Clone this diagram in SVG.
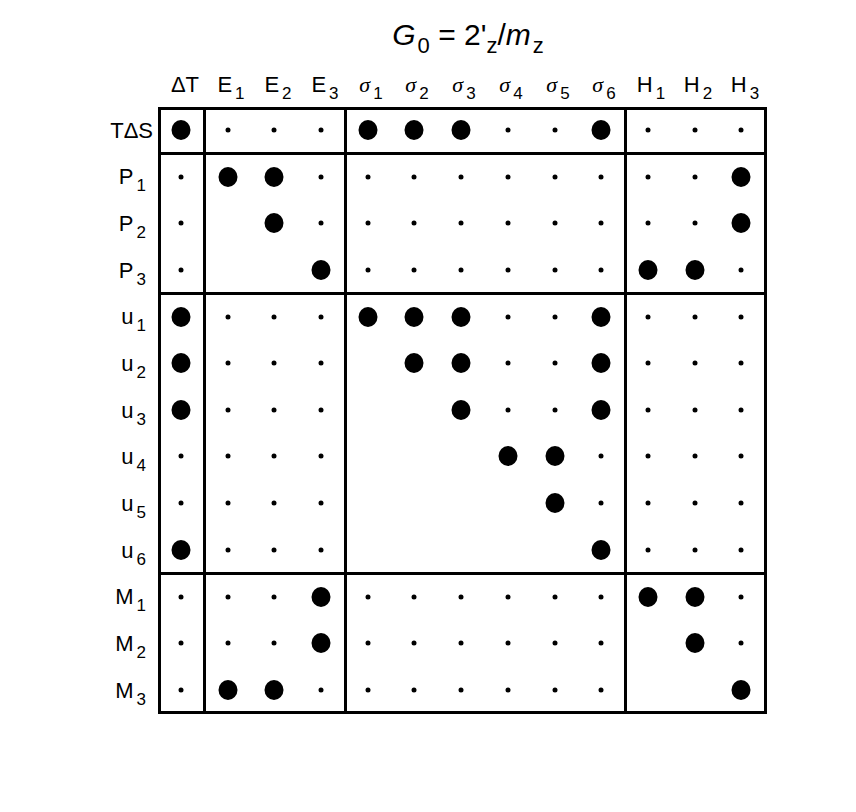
<svg xmlns="http://www.w3.org/2000/svg" width="856" height="812" viewBox="0 0 856 812">
<style>
text{font-family:"Liberation Sans",Arial,sans-serif;font-size:22px;fill:#000}
.h{text-anchor:middle}
.r{text-anchor:end}
.sg{font-family:"Liberation Serif",serif;font-style:italic}
.b{fill:#000}
.ln{stroke:#000;stroke-width:3;fill:none}
</style>
<rect width="856" height="812" fill="#fff"/>
<text x="468" y="45" class="h" style="font-size:30px"><tspan font-style="italic">G</tspan><tspan font-size="22" dx="2" dy="8">0</tspan><tspan dy="-8"> = 2'</tspan><tspan font-size="22" dy="8">z</tspan><tspan dy="-8">/</tspan><tspan font-style="italic">m</tspan><tspan font-size="22" dx="2" dy="8">z</tspan></text>
<g id="headers">
<text x="185" y="92" class="h">ΔT</text>
<text x="231" y="92" class="h">E<tspan font-size="17" dx="3" dy="7">1</tspan></text>
<text x="278" y="92" class="h">E<tspan font-size="17" dx="3" dy="7">2</tspan></text>
<text x="325" y="92" class="h">E<tspan font-size="17" dx="3" dy="7">3</tspan></text>
<text x="371" y="92" class="h"><tspan class="sg">σ</tspan><tspan font-size="17" dx="3" dy="7">1</tspan></text>
<text x="417" y="92" class="h"><tspan class="sg">σ</tspan><tspan font-size="17" dx="3" dy="7">2</tspan></text>
<text x="464" y="92" class="h"><tspan class="sg">σ</tspan><tspan font-size="17" dx="3" dy="7">3</tspan></text>
<text x="511" y="92" class="h"><tspan class="sg">σ</tspan><tspan font-size="17" dx="3" dy="7">4</tspan></text>
<text x="558" y="92" class="h"><tspan class="sg">σ</tspan><tspan font-size="17" dx="3" dy="7">5</tspan></text>
<text x="604" y="92" class="h"><tspan class="sg">σ</tspan><tspan font-size="17" dx="3" dy="7">6</tspan></text>
<text x="651" y="92" class="h">H<tspan font-size="17" dx="3" dy="7">1</tspan></text>
<text x="698" y="92" class="h">H<tspan font-size="17" dx="3" dy="7">2</tspan></text>
<text x="745" y="92" class="h">H<tspan font-size="17" dx="3" dy="7">3</tspan></text>
</g>
<g id="rowlabels">
<text x="153" y="138" class="r">TΔS</text>
<text x="146" y="184" class="r">P<tspan font-size="17" dx="3" dy="7">1</tspan></text>
<text x="146" y="231" class="r">P<tspan font-size="17" dx="3" dy="7">2</tspan></text>
<text x="146" y="278" class="r">P<tspan font-size="17" dx="3" dy="7">3</tspan></text>
<text x="146" y="324" class="r">u<tspan font-size="17" dx="3" dy="7">1</tspan></text>
<text x="146" y="371" class="r">u<tspan font-size="17" dx="3" dy="7">2</tspan></text>
<text x="146" y="418" class="r">u<tspan font-size="17" dx="3" dy="7">3</tspan></text>
<text x="146" y="464" class="r">u<tspan font-size="17" dx="3" dy="7">4</tspan></text>
<text x="146" y="511" class="r">u<tspan font-size="17" dx="3" dy="7">5</tspan></text>
<text x="146" y="558" class="r">u<tspan font-size="17" dx="3" dy="7">6</tspan></text>
<text x="146" y="604" class="r">M<tspan font-size="17" dx="3" dy="7">1</tspan></text>
<text x="146" y="651" class="r">M<tspan font-size="17" dx="3" dy="7">2</tspan></text>
<text x="146" y="698" class="r">M<tspan font-size="17" dx="3" dy="7">3</tspan></text>
</g>
<g id="grid">
<rect x="159.5" y="108.5" width="606" height="604" class="ln"/>
<line x1="204.5" y1="108" x2="204.5" y2="713" class="ln"/>
<line x1="345.5" y1="108" x2="345.5" y2="713" class="ln"/>
<line x1="625.5" y1="108" x2="625.5" y2="713" class="ln"/>
<line x1="159" y1="153.5" x2="766" y2="153.5" class="ln"/>
<line x1="159" y1="293.5" x2="766" y2="293.5" class="ln"/>
<line x1="159" y1="573.5" x2="766" y2="573.5" class="ln"/>
</g>
<defs>
<ellipse id="B" rx="9.5" ry="10" class="b"/>
<circle id="s" r="2.5" class="b"/>
</defs>
<g id="dots">
<use href="#B" x="181" y="130"/><use href="#s" x="228" y="130"/><use href="#s" x="274" y="130"/><use href="#s" x="321" y="130"/><use href="#B" x="368" y="130"/><use href="#B" x="414" y="130"/><use href="#B" x="461" y="130"/><use href="#s" x="508" y="130"/><use href="#s" x="555" y="130"/><use href="#B" x="601" y="130"/><use href="#s" x="648" y="130"/><use href="#s" x="695" y="130"/><use href="#s" x="741" y="130"/>
<use href="#s" x="181" y="177"/><use href="#B" x="228" y="177"/><use href="#B" x="274" y="177"/><use href="#s" x="321" y="177"/><use href="#s" x="368" y="177"/><use href="#s" x="414" y="177"/><use href="#s" x="461" y="177"/><use href="#s" x="508" y="177"/><use href="#s" x="555" y="177"/><use href="#s" x="601" y="177"/><use href="#s" x="648" y="177"/><use href="#s" x="695" y="177"/><use href="#B" x="741" y="177"/>
<use href="#s" x="181" y="223"/><use href="#B" x="274" y="223"/><use href="#s" x="321" y="223"/><use href="#s" x="368" y="223"/><use href="#s" x="414" y="223"/><use href="#s" x="461" y="223"/><use href="#s" x="508" y="223"/><use href="#s" x="555" y="223"/><use href="#s" x="601" y="223"/><use href="#s" x="648" y="223"/><use href="#s" x="695" y="223"/><use href="#B" x="741" y="223"/>
<use href="#s" x="181" y="270"/><use href="#B" x="321" y="270"/><use href="#s" x="368" y="270"/><use href="#s" x="414" y="270"/><use href="#s" x="461" y="270"/><use href="#s" x="508" y="270"/><use href="#s" x="555" y="270"/><use href="#s" x="601" y="270"/><use href="#B" x="648" y="270"/><use href="#B" x="695" y="270"/><use href="#s" x="741" y="270"/>
<use href="#B" x="181" y="317"/><use href="#s" x="228" y="317"/><use href="#s" x="274" y="317"/><use href="#s" x="321" y="317"/><use href="#B" x="368" y="317"/><use href="#B" x="414" y="317"/><use href="#B" x="461" y="317"/><use href="#s" x="508" y="317"/><use href="#s" x="555" y="317"/><use href="#B" x="601" y="317"/><use href="#s" x="648" y="317"/><use href="#s" x="695" y="317"/><use href="#s" x="741" y="317"/>
<use href="#B" x="181" y="363"/><use href="#s" x="228" y="363"/><use href="#s" x="274" y="363"/><use href="#s" x="321" y="363"/><use href="#B" x="414" y="363"/><use href="#B" x="461" y="363"/><use href="#s" x="508" y="363"/><use href="#s" x="555" y="363"/><use href="#B" x="601" y="363"/><use href="#s" x="648" y="363"/><use href="#s" x="695" y="363"/><use href="#s" x="741" y="363"/>
<use href="#B" x="181" y="410"/><use href="#s" x="228" y="410"/><use href="#s" x="274" y="410"/><use href="#s" x="321" y="410"/><use href="#B" x="461" y="410"/><use href="#s" x="508" y="410"/><use href="#s" x="555" y="410"/><use href="#B" x="601" y="410"/><use href="#s" x="648" y="410"/><use href="#s" x="695" y="410"/><use href="#s" x="741" y="410"/>
<use href="#s" x="181" y="456"/><use href="#s" x="228" y="456"/><use href="#s" x="274" y="456"/><use href="#s" x="321" y="456"/><use href="#B" x="508" y="456"/><use href="#B" x="555" y="456"/><use href="#s" x="601" y="456"/><use href="#s" x="648" y="456"/><use href="#s" x="695" y="456"/><use href="#s" x="741" y="456"/>
<use href="#s" x="181" y="503"/><use href="#s" x="228" y="503"/><use href="#s" x="274" y="503"/><use href="#s" x="321" y="503"/><use href="#B" x="555" y="503"/><use href="#s" x="601" y="503"/><use href="#s" x="648" y="503"/><use href="#s" x="695" y="503"/><use href="#s" x="741" y="503"/>
<use href="#B" x="181" y="550"/><use href="#s" x="228" y="550"/><use href="#s" x="274" y="550"/><use href="#s" x="321" y="550"/><use href="#B" x="601" y="550"/><use href="#s" x="648" y="550"/><use href="#s" x="695" y="550"/><use href="#s" x="741" y="550"/>
<use href="#s" x="181" y="597"/><use href="#s" x="228" y="597"/><use href="#s" x="274" y="597"/><use href="#B" x="321" y="597"/><use href="#s" x="368" y="597"/><use href="#s" x="414" y="597"/><use href="#s" x="461" y="597"/><use href="#s" x="508" y="597"/><use href="#s" x="555" y="597"/><use href="#s" x="601" y="597"/><use href="#B" x="648" y="597"/><use href="#B" x="695" y="597"/><use href="#s" x="741" y="597"/>
<use href="#s" x="181" y="643"/><use href="#s" x="228" y="643"/><use href="#s" x="274" y="643"/><use href="#B" x="321" y="643"/><use href="#s" x="368" y="643"/><use href="#s" x="414" y="643"/><use href="#s" x="461" y="643"/><use href="#s" x="508" y="643"/><use href="#s" x="555" y="643"/><use href="#s" x="601" y="643"/><use href="#B" x="695" y="643"/><use href="#s" x="741" y="643"/>
<use href="#s" x="181" y="690"/><use href="#B" x="228" y="690"/><use href="#B" x="274" y="690"/><use href="#s" x="321" y="690"/><use href="#s" x="368" y="690"/><use href="#s" x="414" y="690"/><use href="#s" x="461" y="690"/><use href="#s" x="508" y="690"/><use href="#s" x="555" y="690"/><use href="#s" x="601" y="690"/><use href="#B" x="741" y="690"/>
</g>
</svg>
